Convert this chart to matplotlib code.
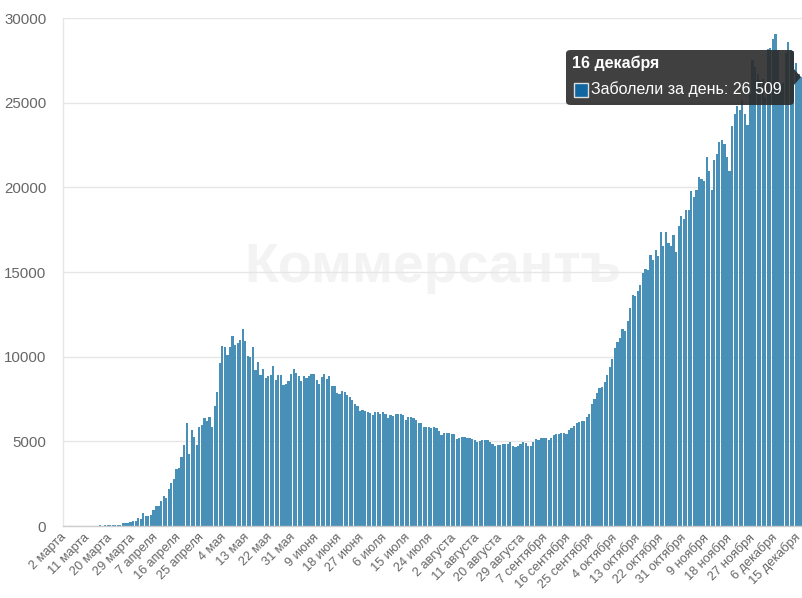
import matplotlib
matplotlib.use("Agg")
import matplotlib.pyplot as plt
from matplotlib.patches import FancyBboxPatch, Polygon, Rectangle
import numpy as np

plt.rcParams['font.family'] = ['Liberation Sans', 'DejaVu Sans']

# Daily new cases (Заболели за день), 2 March .. 16 December
mar = [1, 0, 0, 1, 6, 4, 3, 0, 3, 8, 6, 11, 14, 4, 30, 21, 33, 52, 54, 53,
       61, 71, 57, 163, 182, 196, 228, 270, 302, 501]
apr = [440, 771, 601, 582, 658, 954, 1154, 1175, 1459, 1786, 1667, 2186, 2558,
       2774, 3388, 3448, 4070, 4785, 6060, 4268, 5642, 5236, 4774, 5849, 5966,
       6361, 6198, 6411, 5841, 7099]
may = [7933, 9623, 10633, 10581, 10102, 10559, 11231, 10699, 10817, 11012,
       11656, 10899, 10028, 9974, 10598, 9200, 9709, 8926, 9263, 8764, 8849,
       8894, 9434, 8599, 8946, 8915, 8338, 8371, 8572, 8952, 9268]
jun = [9035, 8863, 8536, 8831, 8726, 8855, 8984, 8985, 8595, 8404, 8779, 8987,
       8706, 8835, 8246, 8248, 7843, 7790, 7972, 7889, 7728, 7600, 7425, 7176,
       7113, 6800, 6852, 6791, 6719, 6693]
jul = [6556, 6760, 6718, 6632, 6736, 6611, 6368, 6562, 6509, 6635, 6611, 6615,
       6537, 6248, 6422, 6428, 6406, 6234, 6109, 6098, 5842, 5862, 5848, 5811,
       5871, 5765, 5635, 5395, 5475, 5509, 5482]
aug = [5462, 5427, 5159, 5204, 5267, 5241, 5212, 5189, 5118, 5102, 4945, 5041,
       5057, 5065, 5061, 4969, 4839, 4748, 4790, 4767, 4870, 4838, 4852, 4969,
       4696, 4676, 4711, 4829, 4980, 4897, 4729]
sep = [4729, 4952, 5110, 5099, 5205, 5195, 5185, 5099, 5172, 5363, 5449, 5406,
       5488, 5509, 5442, 5670, 5762, 5905, 6065, 6148, 6196, 6215, 6431, 6595,
       7212, 7523, 7867, 8135, 8232, 8481]
octo = [8945, 9412, 9859, 10499, 10888, 11115, 11615, 11493, 12126, 12846,
        13634, 13592, 13868, 14231, 14922, 15150, 15099, 15982, 15700, 16319,
        15971, 17340, 16521, 17347, 16710, 16550, 17189, 16202, 17717, 18283,
        18140]
nov = [18665, 18648, 19768, 19404, 19851, 20582, 20498, 20396, 21798, 20977,
       19851, 21608, 21983, 22702, 22778, 22572, 21798, 20985, 23610, 24318,
       24822, 24581, 25173, 24326, 23675, 25487, 27543, 27100, 26683, 26338]
dec = [26402, 25345, 28145, 28209, 28782, 29039, 28137, 26097, 26190, 27927,
       28585, 28137, 28080, 27328, 26689, 26509]

tick_labels = ['2 марта', '11 марта', '20 марта', '29 марта', '7 апреля',
               '16 апреля', '25 апреля', '4 мая', '13 мая', '22 мая', '31 мая',
               '9 июня', '18 июня', '27 июня', '6 июля', '15 июля', '24 июля',
               '2 августа', '11 августа', '20 августа', '29 августа',
               '7 сентября', '16 сентября', '25 сентября', '4 октября',
               '13 октября', '22 октября', '31 октября', '9 ноября',
               '18 ноября', '27 ноября', '6 декабря', '15 декабря']
y_ticks = [0, 5000, 10000, 15000, 20000, 25000, 30000]

series_name = 'Заболели за день'
tooltip_date = '16 декабря'

values = np.array(mar + apr + may + jun + jul + aug + sep + octo + nov + dec)
x = np.arange(len(values))

W, H = 803, 598
fig = plt.figure(figsize=(W / 100, H / 100), dpi=100)
ax = fig.add_axes([63 / W, (H - 526) / H, (W - 63) / W, (526 - 18) / H])

ax.bar(x, values, width=0.86, color='#4890b8', edgecolor='none', zorder=2)

ax.set_xlim(-0.5, len(values) - 0.5 + 0.3)
ax.set_ylim(0, 30000)
ax.set_yticks(y_ticks)
ax.set_yticklabels([str(v) for v in y_ticks])
ax.set_xticks(np.arange(0, len(values), 9)[:len(tick_labels)])
ax.set_xticklabels(tick_labels, rotation=45, ha='right', va='center',
                   rotation_mode='anchor')

ax.tick_params(axis='y', length=0, pad=12, labelsize=10.8, labelcolor='#666666')
ax.tick_params(axis='x', length=0, pad=7, labelsize=9.2, labelcolor='#666666')

ax.set_axisbelow(True)
ax.yaxis.grid(True, color='#e6e6e6', linewidth=1)
ax.xaxis.grid(False)
for s in ['top', 'right']:
    ax.spines[s].set_visible(False)
ax.spines['left'].set_color('#e6e6e6')
ax.spines['left'].set_linewidth(1)
ax.spines['bottom'].set_color('#cccccc')
ax.spines['bottom'].set_linewidth(1)
ax.spines['bottom'].set_zorder(3)

# watermark
ax.text(433 / W, 1 - 268 / H, 'Коммерсантъ', transform=fig.transFigure,
        fontsize=40, fontweight='bold', color='#f3f3f3', ha='center',
        va='center', zorder=0.1)

# tooltip
def fx(px):
    return px / W

def fy(py):
    return 1 - py / H

box = FancyBboxPatch((fx(566), fy(105)), fx(794) - fx(566), fy(50) - fy(105),
                     boxstyle='round,pad=0,rounding_size=0.006',
                     transform=fig.transFigure, facecolor='#2b2b2b',
                     edgecolor='none', alpha=0.9, zorder=10)
fig.patches.append(box)
arrow = Polygon([(fx(794), fy(69)), (fx(801), fy(77)), (fx(794), fy(85))],
                closed=True, transform=fig.transFigure, facecolor='#2b2b2b',
                edgecolor='none', alpha=0.9, zorder=10)
fig.patches.append(arrow)
sq = Rectangle((fx(574), fy(97)), fx(14), 14 / H, transform=fig.transFigure,
               facecolor='#0f66a0', edgecolor='#dddddd', linewidth=1, zorder=11)
fig.patches.append(sq)
fig.text(fx(572), fy(63), tooltip_date, color='white', fontsize=11.5,
         fontweight='bold', ha='left', va='center', zorder=12)
fig.text(fx(591), fy(89.5), f'{series_name}: {values[-1]:,}'.replace(',', ' '),
         color='white', fontsize=11.5, ha='left', va='center', zorder=12)

fig.savefig('out.png', dpi=100)
